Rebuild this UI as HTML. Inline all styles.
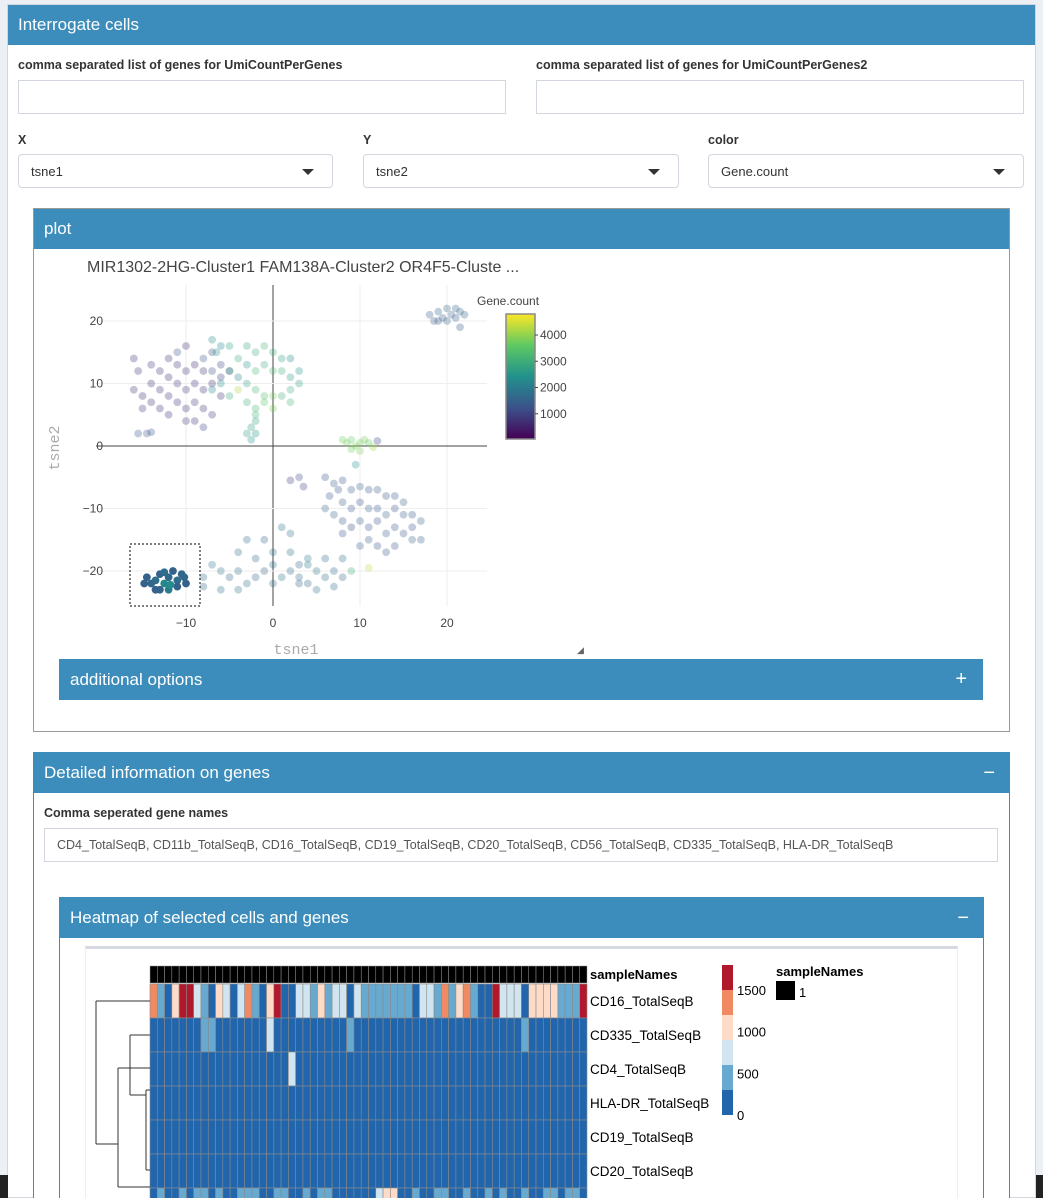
<!DOCTYPE html>
<html><head><meta charset="utf-8">
<style>
*{box-sizing:border-box;margin:0;padding:0}
html{width:1043px;height:1198px;overflow:hidden}
body{width:1043px;height:1198px;overflow:hidden;background:#ecf0f5;font-family:"Liberation Sans",sans-serif;position:relative;color:#333}
.abs{position:absolute}
.box{position:absolute;background:#fff;border:1px solid #3c8dbc}
.hdr{position:absolute;left:0;right:0;top:0;background:#3c8dbc;color:#fff;font-size:17px;padding-left:10px}
.lbl{position:absolute;font-size:12.5px;font-weight:bold;color:#333}
.inp{position:absolute;border:1px solid #d2d6de;background:#fff;height:34px}
.sel{position:absolute;border:1px solid #d2d6de;border-radius:4px;background:#fff;height:34px;font-size:13px;padding:9px 12px;color:#333}
.sel:after{content:"";position:absolute;right:18px;top:14px;border-left:6px solid transparent;border-right:6px solid transparent;border-top:6px solid #333}
</style></head><body>
<div class="box" style="left:7px;top:4px;width:1029px;height:1194px;border-color:#d2d6de">
 <div class="hdr" style="height:40px;line-height:40px;">Interrogate cells</div>
</div>
<div class="lbl" style="left:18px;top:58px">comma separated list of genes for UmiCountPerGenes</div>
<div class="inp" style="left:18px;top:80px;width:488px"></div>
<div class="lbl" style="left:536px;top:58px">comma separated list of genes for UmiCountPerGenes2</div>
<div class="inp" style="left:536px;top:80px;width:488px"></div>
<div class="lbl" style="left:18px;top:133px">X</div>
<div class="sel" style="left:18px;top:154px;width:315px">tsne1</div>
<div class="lbl" style="left:363px;top:133px">Y</div>
<div class="sel" style="left:363px;top:154px;width:316px">tsne2</div>
<div class="lbl" style="left:708px;top:133px">color</div>
<div class="sel" style="left:708px;top:154px;width:316px">Gene.count</div>

<div class="box" style="left:33px;top:208px;width:977px;height:524px;border-color:#999">
 <div class="hdr" style="height:40px;line-height:40px">plot</div>
</div>
<svg class="abs" id="sc" style="left:0;top:0" width="1043" height="700"></svg>
<div class="abs" style="left:59px;top:659px;width:924px;height:41px;background:#3c8dbc;color:#fff;font-size:17px;line-height:41px;padding-left:11px">additional options<span style="position:absolute;right:16px;font-size:20px">+</span></div>

<div class="box" style="left:33px;top:752px;width:977px;height:446px;border-bottom:none">
 <div class="hdr" style="height:40px;line-height:40px">Detailed information on genes<span style="position:absolute;right:14px;font-size:20px">−</span></div>
</div>
<div class="lbl" style="left:44px;top:806px">Comma seperated gene names</div>
<div class="inp" style="left:44px;top:828px;width:954px;font-size:12.5px;padding:9px 12px;color:#555">CD4_TotalSeqB, CD11b_TotalSeqB, CD16_TotalSeqB, CD19_TotalSeqB, CD20_TotalSeqB, CD56_TotalSeqB, CD335_TotalSeqB, HLA-DR_TotalSeqB</div>
<div class="box" style="left:59px;top:897px;width:925px;height:301px;border-bottom:none">
 <div class="hdr" style="height:40px;line-height:40px">Heatmap of selected cells and genes<span style="position:absolute;right:14px;font-size:20px">−</span></div>
</div>
<div class="abs" style="left:85px;top:946px;width:873px;height:252px;border-top:3px solid #d6d9e2;border-left:1px solid #eee;border-right:1px solid #eee;background:#fff"></div>
<svg class="abs" id="hm" style="left:0;top:0" width="1043" height="1198"></svg>
<div class="abs" style="left:0;top:1175px;width:8px;height:23px;background:#222"></div>
<div class="abs" style="left:1036px;top:1175px;width:7px;height:23px;background:#222"></div>

<script>
// scatter data
const selX=[-14.5,-14,-13.5,-13,-12.5,-12,-11.5,-11,-10.5,-10,-13,-12,-11,-12.5,-14.8,-10.2,-11.8,-13.5];
const selY=[-21,-22,-21.5,-20.5,-22,-21,-20,-21.5,-20.5,-22,-23,-23,-22.5,-20.2,-22,-21,-22.2,-23];
const selC=[1500,1600,1700,1500,2200,1600,1500,1700,1600,1500,1600,2000,1500,1700,1500,1600,2300,1500];
const ptX=[-16,-15.5,-16,-15,-14,-14,-13,-13,-12,-12,-12,-11,-11,-11,-10,-10,-10,-9,-9,-9,-8,-8,-8,-7,-7,-7,-6,-6,-13,-14,-15,-12,-10,-9,-11,-10,-8,-7,-6,-5,-15.5,-14.5,-14,-8,
-7,-6,-6.5,-5,-4,-3,-2,-1,0,1,2,-5,-4,-3,-2,-1,0,1,2,3,-4,-3,-2,-1,0,1,2,3,-3,-2,-1,0,2,-2,-2,-2.5,-3,-2,-2.5,-5,-6,-7,
8,8.5,9,9.5,10,10.5,11,11.5,9,10,12,9.5,
18,18.5,19,19.5,20,20.5,21,21.5,22,21.5,19,20,21,
6,7,8,7.5,9,10,11,12,13,14,15,8,9,10,11,12,13,14,15,16,17,10,11,12,13,14,15,16,17,12,14,11,9,8,7,13,3.5,2,3,6.5,6,16,10,8,
-8,-7,-6,-5,-4,-3,-2,-1,0,1,2,3,4,5,6,7,8,-4,-2,0,2,4,6,8,-1,1,2,-3,-6,-8,-4,0,3,5,7,9,3,4,11];
const ptY=[14,12,9,8,10,13,12,9,14,11,8,13,10,7,12,9,6,13,10,7,12,9,6,12,10,5,11,8,6,7,6,5,4,4,15,16,14,15,13,12,2,2,2.2,3,
17,16,15,16,14,16,15,16,15,14,14,12,11,13,12,13,12,12,11,12,9,10,9,8,8,8,9,10,7,6,7,6,7,5,4,3,2,2,1,8,10,9,
1,0.5,1,0,0.5,1,0.5,-0.2,-0.5,-0.8,0.8,-3,
21,20,21.5,20.5,22,21,20.5,21.5,21,19,20,20,22,
-5,-6,-5.5,-7,-7,-6.5,-7,-7,-8,-8,-9,-9,-10,-9,-10,-10,-11,-10,-11,-11,-12,-12,-13,-12,-14,-13,-14,-15,-15,-16,-16,-15,-13,-12,-11,-17,-6.5,-5.5,-5,-8,-10,-13,-16,-14,
-21,-19,-20,-21,-20,-22,-21,-20,-19,-21,-20,-21,-19,-20,-21,-20,-21,-17,-18,-17,-17,-18,-18,-18,-15,-13,-14,-15,-23,-22.5,-23,-22,-22,-23,-22.5,-20,-19,-22,-19.5];
const ptC=[700,650,750,600,700,800,650,700,750,600,700,650,800,700,650,750,700,600,700,800,650,700,750,1100,700,800,900,650,700,750,800,700,850,700,1200,700,1300,1100,1000,900,1300,1200,1300,1000,
2300,2100,2500,2700,3000,2800,2900,3100,3000,2700,2200,2800,2100,2400,3200,2900,3300,3000,2600,2500,4200,2700,3100,3300,3800,3000,2900,2700,3000,3200,3500,3800,3100,3100,2800,2700,2600,2500,2400,2900,2300,2200,
3700,3800,3600,3900,3700,3800,3600,4100,3700,3800,900,2400,
1400,1300,1500,1400,1600,1500,1400,1600,1500,1300,1400,1500,1500,
1300,1400,1200,1300,1400,1500,1300,1400,1200,1300,1500,1400,1300,1200,1400,1300,1500,1200,1400,1300,1500,1400,1300,1200,1400,1300,1200,1500,1400,1300,1200,1400,1100,1300,1500,1400,900,800,1000,1300,1500,1200,1400,1300,
1700,1900,1800,1600,1700,1800,1600,1500,1700,1800,1600,1700,1900,1800,1700,1600,1500,1700,1600,1800,1700,1900,1600,1700,1500,1900,1800,1700,1700,1600,1800,1700,1600,1800,1700,3000,1500,1600,4300];
const xTicks=[-10,0,10,20];
const yTicks=[-20,-10,0,10,20];
const cbTicks=[1000,2000,3000,4000];

const NS='http://www.w3.org/2000/svg';
function mk(parent,tag,attrs){const e=document.createElementNS(NS,tag);for(const k in attrs)e.setAttribute(k,attrs[k]);parent.appendChild(e);return e;}
const sx=v=>273+v*8.7, sy=v=>446-v*6.25;
const vir=[[68,1,84],[59,82,139],[33,145,140],[94,201,98],[253,231,37]];
function vcol(c){let t=Math.max(0,Math.min(1,c/4800))*4;let i=Math.min(3,Math.floor(t)),f=t-i;const a=vir[i],b=vir[i+1];return 'rgb('+a.map((v,j)=>Math.round(v+(b[j]-v)*f)).join(',')+')';}
const sc=document.getElementById('sc');
let t=mk(sc,'text',{x:87,y:272,'font-size':16,fill:'#444','font-family':'Liberation Sans, sans-serif'});t.textContent='MIR1302-2HG-Cluster1 FAM138A-Cluster2 OR4F5-Cluste ...';

xTicks.forEach(v=>{const l=mk(sc,'line',{x1:sx(v),x2:sx(v),y1:285,y2:606,stroke:v==0?'#444':'#eee','stroke-width':1});
 
 const tx=mk(sc,'text',{x:sx(v),y:627,'font-size':12,fill:'#444','text-anchor':'middle'});tx.textContent=v<0?'−'+(-v):v;
 });
yTicks.forEach(v=>{const l=mk(sc,'line',{x1:96,x2:487,y1:sy(v),y2:sy(v),stroke:v==0?'#444':'#eee','stroke-width':1});
 
 const tx=mk(sc,'text',{x:103,y:sy(v)+4,'font-size':12,fill:'#444','text-anchor':'end'});tx.textContent=v<0?'−'+(-v):v;
 });
ptX.forEach((x,i)=>{const c=mk(sc,'circle',{cx:sx(x),cy:sy(ptY[i]),r:3.9,fill:vcol(ptC[i]),'fill-opacity':0.3});
 });
selX.forEach((x,i)=>{const c=mk(sc,'circle',{cx:sx(x),cy:sy(selY[i]),r:3.9,fill:vcol(selC[i])});
 });
let r=mk(sc,'rect',{x:130,y:544,width:70,height:62,fill:'none',stroke:'#000','stroke-dasharray':'2,2'});

t=mk(sc,'text',{x:296,y:654,'font-size':15,fill:'#aaa','text-anchor':'middle','font-family':'Liberation Mono, monospace'});t.textContent='tsne1';

t=mk(sc,'text',{x:0,y:0,'font-size':15,fill:'#aaa','text-anchor':'middle','font-family':'Liberation Mono, monospace',transform:'translate(59,448) rotate(-90)'});t.textContent='tsne2';

const defs=mk(sc,'defs',{});const g=mk(defs,'linearGradient',{id:'vg',x1:0,y1:1,x2:0,y2:0});
vir.forEach((c,i)=>mk(g,'stop',{offset:i/4,'stop-color':'rgb('+c.join(',')+')'}));
r=mk(sc,'rect',{x:506,y:314,width:29,height:125,fill:'url(#vg)',stroke:'#888','stroke-width':1.5});

t=mk(sc,'text',{x:477,y:305,'font-size':12,fill:'#444'});t.textContent='Gene.count';

cbTicks.forEach(v=>{const y=440-v/4800*126;mk(sc,'line',{x1:535,x2:538,y1:y,y2:y,stroke:'#444'});
 const tx=mk(sc,'text',{x:540,y:y+4,'font-size':12,fill:'#444'});tx.textContent=v;
 });
t=mk(sc,'text',{x:577,y:653,'font-size':9,fill:'#666'});t.textContent='◢';

// heatmap data
const genes=['CD16_TotalSeqB','CD335_TotalSeqB','CD4_TotalSeqB','HLA-DR_TotalSeqB','CD19_TotalSeqB','CD20_TotalSeqB','CD56_TotalSeqB'];
const cd16=[1300,400,100,1000,1600,1600,700,400,100,1000,700,100,700,1300,400,100,1000,1600,100,100,700,700,400,1000,400,700,700,100,700,400,400,400,400,400,400,400,100,700,700,400,1300,400,1000,1300,400,100,100,1600,700,700,700,100,1000,1000,1000,1000,400,400,400,1600];
const cd335=[100,100,100,100,100,100,100,400,400,100,100,100,100,100,100,100,650,100,100,100,100,100,100,100,100,100,100,400,100,100,100,100,100,100,100,100,100,100,100,100,100,100,100,100,100,100,100,100,100,100,100,400,100,100,100,100,100,100,100,100];
const cd4=[100,100,100,100,100,100,100,100,100,100,100,100,100,100,100,100,100,100,100,650,100,100,100,100,100,100,100,100,100,100,100,100,100,100,100,100,100,100,100,100,100,100,100,100,100,100,100,100,100,100,100,100,100,100,100,100,100,100,100,100];
const zeros=new Array(60).fill(100);
const cd56=[100,400,100,100,400,100,400,400,100,400,100,100,400,400,400,100,100,400,400,100,100,400,100,400,400,100,100,100,100,100,100,700,1000,1000,100,100,400,100,100,400,400,100,100,400,100,100,400,100,400,100,100,400,100,100,400,400,100,400,400,100];
const hmRows=[cd16,cd335,cd4,zeros,zeros,zeros,cd56];
const legendTicks=[0,500,1000,1500];
const binCols=['#2166ac','#67a9cf','#d1e5f0','#fddbc7','#ef8a62','#b2182b'];
const bc=v=>binCols[Math.min(5,Math.floor(v/300))];
const hm=document.getElementById('hm');
const x0=150,cw=437/60,y0=984,rh=34;
for(let j=0;j<60;j++){const a=mk(hm,'rect',{x:x0+j*cw,y:966,width:cw,height:17,fill:'#000',stroke:'#999','stroke-width':0.5});
 }
hmRows.forEach((row,i)=>{row.forEach((v,j)=>{const c=mk(hm,'rect',{x:x0+j*cw,y:y0+i*rh,width:cw,height:rh,fill:bc(v),stroke:'#8a8a8a','stroke-width':0.6});
 });
 const tx=mk(hm,'text',{x:590,y:y0+i*rh+22,'font-size':13.5,fill:'#000'});tx.textContent=i<6?genes[i]:'';
 });
t=mk(hm,'text',{x:590,y:979,'font-size':13,'font-weight':'bold',fill:'#000'});t.textContent='sampleNames';

const dp=[[150,1001,96,1001],[96,1001,96,1144],[96,1144,118,1144],[118,1068,118,1187],[118,1068,150,1068],[118,1187,150,1187],[130,1035,130,1095],[130,1035,150,1035],[130,1095,146,1095],[146,1090,146,1170],[146,1090,150,1090],[146,1170,150,1170]];
dp.forEach(d=>{const l=mk(hm,'line',{x1:d[0],y1:d[1],x2:d[2],y2:d[3],stroke:'#333','stroke-width':1});});
binCols.forEach((c,i)=>{const b=mk(hm,'rect',{x:722,y:1115-(i+1)*25,width:11,height:25,fill:c});});
legendTicks.forEach(v=>{const tx=mk(hm,'text',{x:737,y:1120-v/300*25,'font-size':13,fill:'#000'});tx.textContent=v;
 });
t=mk(hm,'text',{x:776,y:976,'font-size':13,'font-weight':'bold',fill:'#000'});t.textContent='sampleNames';

r=mk(hm,'rect',{x:776,y:981,width:19,height:19,fill:'#000'});
t=mk(hm,'text',{x:799,y:997,'font-size':13,fill:'#000'});t.textContent='1';
</script>
</body></html>
